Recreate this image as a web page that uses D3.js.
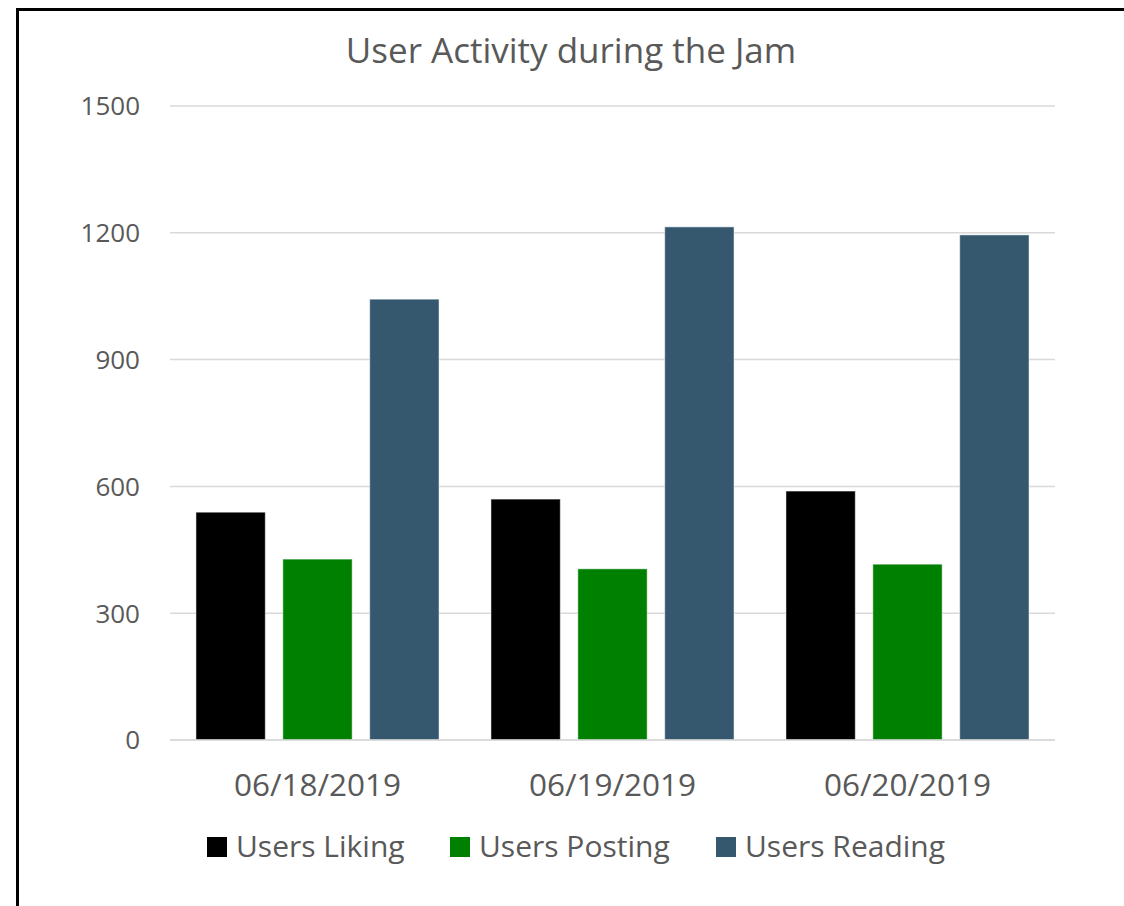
<!DOCTYPE html>
<html>
<head>
<meta charset="utf-8">
<script src="https://cdn.jsdelivr.net/npm/d3@7"></script>
<style>
  html, body { margin: 0; padding: 0; background: #fff; }
  svg { display: block; font-family: "Open Sans", "Noto Sans", sans-serif; }
</style>
</head>
<body>
<svg id="chart" width="1124" height="906"></svg>
<script>
// Daily activity counts during the jam
const dates = ["06/18/2019", "06/19/2019", "06/20/2019"];
const seriesNames = ["Users Liking", "Users Posting", "Users Reading"];
const usersLiking = [539, 570, 589];
const usersPosting = [428, 405, 416];
const usersReading = [1043, 1214, 1195];
const yTicks = [0, 300, 600, 900, 1200, 1500];
const seriesColors = ["#000000", "#008000", "#36586f"];

const seriesValues = [usersLiking, usersPosting, usersReading];

const svg = d3.select("#chart");
const textColor = "#595959";
const gridColor = "#d9d9d9";

// Outer frame
svg.append("rect")
  .attr("x", 17.5).attr("y", 9.5)
  .attr("width", 1200).attr("height", 1000)
  .attr("fill", "#fff")
  .attr("stroke", "#000").attr("stroke-width", 3);

const plot = { left: 170, right: 1055, top: 106, bottom: 740 };

const y = d3.scaleLinear().domain([0, 1500]).range([plot.bottom, plot.top]);
const x0 = d3.scaleBand().domain(dates).range([plot.left, plot.right])
  .paddingInner(0.176).paddingOuter(0.088);
const x1 = d3.scaleBand().domain(seriesNames).range([0, x0.bandwidth()])
  .paddingInner(0.202).paddingOuter(0);

// Title
svg.append("text")
  .attr("x", 571).attr("y", 63)
  .attr("text-anchor", "middle")
  .attr("fill", textColor)
  .attr("font-size", 35)
  .text("User Activity during the Jam");

// Horizontal gridlines
svg.append("g").selectAll("line")
  .data(yTicks)
  .join("line")
  .attr("x1", plot.left).attr("x2", plot.right)
  .attr("y1", d => y(d)).attr("y2", d => y(d))
  .attr("stroke", gridColor).attr("stroke-width", 1.5);

// Y tick labels
svg.append("g").selectAll("text")
  .data(yTicks)
  .join("text")
  .attr("x", 140).attr("y", d => y(d))
  .attr("dy", "0.36em")
  .attr("text-anchor", "end")
  .attr("fill", textColor)
  .attr("font-size", 26)
  .text(d => d);

// Bars
const groups = svg.append("g").selectAll("g")
  .data(dates)
  .join("g")
  .attr("transform", d => `translate(${x0(d)},0)`);

groups.selectAll("rect")
  .data((d, i) => seriesNames.map((s, j) => ({ s, j, v: seriesValues[j][i] })))
  .join("rect")
  .attr("x", d => x1(d.s))
  .attr("width", x1.bandwidth())
  .attr("y", d => y(d.v))
  .attr("height", d => y(0) - y(d.v))
  .attr("fill", d => seriesColors[d.j])
  .attr("stroke", "#ffffff").attr("stroke-opacity", 0.5).attr("stroke-width", 1);

// Baseline redrawn over bar bottoms
svg.append("line")
  .attr("x1", plot.left).attr("x2", plot.right)
  .attr("y1", y(0)).attr("y2", y(0))
  .attr("stroke", gridColor).attr("stroke-width", 1.5);

// X category labels
svg.append("g").selectAll("text")
  .data(dates)
  .join("text")
  .attr("x", d => x0(d) + x0.bandwidth() / 2)
  .attr("y", 796)
  .attr("text-anchor", "middle")
  .attr("fill", textColor)
  .attr("font-size", 31.5)
  .text(d => d);

// Legend
const legendX = [207, 450, 716];
const legend = svg.append("g").selectAll("g")
  .data(seriesNames)
  .join("g")
  .attr("transform", (d, i) => `translate(${legendX[i]},837)`);
legend.append("rect")
  .attr("width", 20).attr("height", 20)
  .attr("fill", (d, i) => seriesColors[i]);
legend.append("text")
  .attr("x", 29).attr("y", 20)
  .attr("fill", textColor)
  .attr("font-size", 30)
  .text(d => d);
</script>
</body>
</html>
